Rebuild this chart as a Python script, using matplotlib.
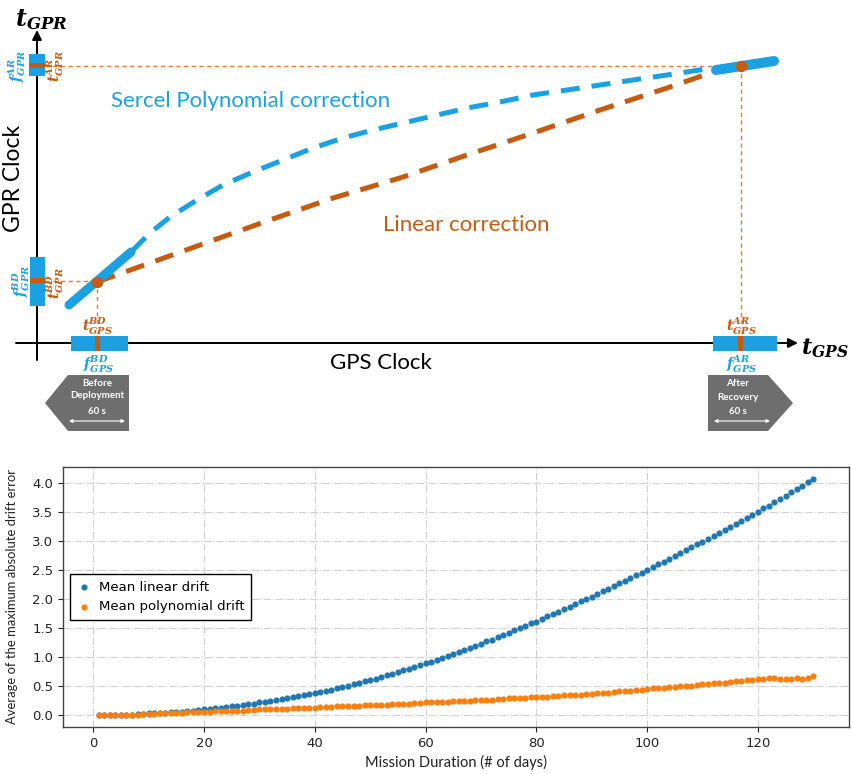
import matplotlib
matplotlib.use('Agg')
import matplotlib.pyplot as plt
from matplotlib.patches import Polygon, Rectangle

# ---------------- data (bottom chart) ----------------
days = list(range(1, 131))
linear_drift = [
    0.00, 0.00, 0.00, 0.00, 0.01, 0.01, 0.01, 0.02, 0.02, 0.03,
    0.03, 0.04, 0.04, 0.05, 0.06, 0.06, 0.07, 0.08, 0.09, 0.10,
    0.11, 0.12, 0.13, 0.14, 0.15, 0.16, 0.18, 0.19, 0.20, 0.22,
    0.23, 0.25, 0.26, 0.28, 0.29, 0.31, 0.33, 0.34, 0.36, 0.38,
    0.40, 0.42, 0.44, 0.46, 0.48, 0.51, 0.53, 0.55, 0.58, 0.61,
    0.63, 0.66, 0.69, 0.71, 0.74, 0.77, 0.80, 0.83, 0.86, 0.89,
    0.92, 0.95, 0.99, 1.02, 1.05, 1.09, 1.12, 1.16, 1.19, 1.23,
    1.27, 1.30, 1.34, 1.38, 1.42, 1.46, 1.50, 1.54, 1.58, 1.61,
    1.65, 1.70, 1.74, 1.78, 1.83, 1.87, 1.92, 1.96, 2.00, 2.04,
    2.09, 2.13, 2.18, 2.22, 2.27, 2.31, 2.36, 2.41, 2.45, 2.50,
    2.55, 2.60, 2.64, 2.69, 2.74, 2.79, 2.84, 2.89, 2.94, 2.99,
    3.04, 3.09, 3.14, 3.19, 3.24, 3.29, 3.35, 3.40, 3.45, 3.50,
    3.56, 3.61, 3.67, 3.72, 3.78, 3.84, 3.89, 3.95, 4.01, 4.07]
poly_drift = [
    0.00, 0.00, 0.00, 0.01, 0.01, 0.01, 0.01, 0.01, 0.02, 0.02,
    0.02, 0.03, 0.03, 0.04, 0.04, 0.04, 0.05, 0.05, 0.06, 0.06,
    0.06, 0.07, 0.07, 0.07, 0.08, 0.08, 0.08, 0.09, 0.09, 0.10,
    0.10, 0.10, 0.11, 0.11, 0.11, 0.12, 0.12, 0.12, 0.13, 0.13,
    0.14, 0.14, 0.14, 0.15, 0.15, 0.16, 0.16, 0.16, 0.17, 0.17,
    0.18, 0.18, 0.18, 0.19, 0.19, 0.20, 0.20, 0.21, 0.21, 0.22,
    0.22, 0.22, 0.23, 0.23, 0.24, 0.24, 0.25, 0.25, 0.26, 0.26,
    0.27, 0.27, 0.28, 0.28, 0.29, 0.29, 0.30, 0.30, 0.31, 0.31,
    0.32, 0.32, 0.33, 0.33, 0.34, 0.34, 0.35, 0.35, 0.36, 0.37,
    0.38, 0.38, 0.39, 0.40, 0.41, 0.42, 0.42, 0.43, 0.44, 0.45,
    0.46, 0.46, 0.47, 0.48, 0.49, 0.50, 0.50, 0.51, 0.52, 0.53,
    0.54, 0.55, 0.55, 0.56, 0.57, 0.58, 0.59, 0.60, 0.61, 0.62,
    0.62, 0.64, 0.64, 0.62, 0.62, 0.63, 0.64, 0.63, 0.64, 0.67]
xticks = [0, 20, 40, 60, 80, 100, 120]
yticks = [0.0, 0.5, 1.0, 1.5, 2.0, 2.5, 3.0, 3.5, 4.0]
series_labels = ['Mean linear drift', 'Mean polynomial drift']

# ---------------- schematic (top diagram) ----------------
poly_curve_x = [132, 150, 170, 197, 223, 253, 283, 313, 343, 373, 403, 433, 467, 500, 533, 567, 600, 633, 667, 693, 713]
poly_curve_y = [251, 233, 217, 200, 185, 172, 160, 148, 138, 130, 123, 116, 108, 102, 95, 90, 85, 80, 75, 71, 68]
lin_curve_x = [97, 200, 267, 333, 400, 467, 533, 600, 667, 713]
lin_curve_y = [282, 245, 221, 198, 178, 155, 133, 110, 88, 72]

BLUE = '#1BA1E2'
ORANGE = '#C55A11'
GUIDE = '#E07B39'
GRAY = '#6E6E6E'
PX = 0.72  # points per pixel

plt.rcParams['mathtext.fontset'] = 'dejavuserif'

fig = plt.figure(figsize=(8.51, 7.74), dpi=100)

H = 435
dax = fig.add_axes([0, 1 - H / 774, 1, H / 774])
dax.set_xlim(0, 851)
dax.set_ylim(H, 0)
dax.axis('off')

# axes with arrows
dax.annotate('', xy=(37, 30), xytext=(37, 360),
             arrowprops=dict(arrowstyle='-|>', lw=2 * PX, color='black',
                             mutation_scale=14, shrinkA=0, shrinkB=0), zorder=1)
dax.annotate('', xy=(798, 343), xytext=(16, 343),
             arrowprops=dict(arrowstyle='-|>', lw=2 * PX, color='black',
                             mutation_scale=14, shrinkA=0, shrinkB=0), zorder=1)

# thin guide lines
gkw = dict(color=GUIDE, lw=1.4 * PX, ls=(0, (3, 2.5)), zorder=2)
dax.plot([45, 741], [66, 66], **gkw)
dax.plot([741, 741], [66, 322], **gkw)
dax.plot([45, 97], [281, 281], **gkw)
dax.plot([97, 97], [281, 322], **gkw)

# dashed correction curves
dax.plot(lin_curve_x, lin_curve_y, color=ORANGE, lw=5 * PX, dashes=(3.8, 2.4),
         solid_capstyle='butt', zorder=3)
dax.plot(poly_curve_x, poly_curve_y, color=BLUE, lw=5 * PX, dashes=(3.8, 2.4),
         zorder=3)

# thick solid segments
dax.plot([69, 131], [305, 252], color=BLUE, lw=9 * PX, solid_capstyle='round', zorder=4)
dax.plot([716, 774], [70, 61], color=BLUE, lw=10 * PX, solid_capstyle='round', zorder=4)

# orange dots
dax.plot([97, 741], [282, 66], 'o', color=ORANGE, ms=10 * PX, zorder=5)

# rectangles on axes
def rect(x0, y0, x1, y1, color, z=3):
    dax.add_patch(Rectangle((x0, y0), x1 - x0, y1 - y0, facecolor=color,
                            edgecolor='none', zorder=z))

rect(29, 54, 45, 76, BLUE)
rect(29, 63, 45, 68, ORANGE, 4)
rect(30, 257, 45, 306, BLUE)
rect(30, 278, 45, 283, ORANGE, 4)
rect(71, 336, 128, 351, BLUE)
rect(95, 336, 100, 351, ORANGE, 4)
rect(713, 336, 777, 351, BLUE)
rect(738, 336, 743, 351, ORANGE, 4)

# math labels
dax.text(41, 20, r'$\mathbfit{t}_{\mathbfit{GPR}}$', fontsize=17, ha='center', va='center')
dax.text(825, 348, r'$\mathbfit{t}_{\mathbfit{GPS}}$', fontsize=16, ha='center', va='center')

sl = 10
def ml(letter, sub, sup):
    return r'$\mathbfit{%s}_{\mathbfit{%s}}^{\mathbfit{%s}}$' % (letter, sub, sup)

dax.text(17, 66, ml('f', 'GPR', 'AR'), color=BLUE, fontsize=sl, rotation=90, ha='center', va='center')
dax.text(55, 66, ml('t', 'GPR', 'AR'), color=ORANGE, fontsize=sl, rotation=90, ha='center', va='center')
dax.text(21, 281, ml('f', 'GPR', 'BD'), color=BLUE, fontsize=sl, rotation=90, ha='center', va='center')
dax.text(55, 283, ml('t', 'GPR', 'BD'), color=ORANGE, fontsize=sl, rotation=90, ha='center', va='center')
dax.text(97, 326, ml('t', 'GPS', 'BD'), color=ORANGE, fontsize=sl, ha='center', va='center')
dax.text(99, 364, ml('f', 'GPS', 'BD'), color=BLUE, fontsize=sl, ha='center', va='center')
dax.text(741, 326, ml('t', 'GPS', 'AR'), color=ORANGE, fontsize=sl, ha='center', va='center')
dax.text(742, 364, ml('f', 'GPS', 'AR'), color=BLUE, fontsize=sl, ha='center', va='center')

# big texts
tf = 'Lato'
dax.text(251, 101, 'Sercel Polynomial correction', color=BLUE, fontsize=16, family=tf,
         ha='center', va='center')
dax.text(466, 225, 'Linear correction', color=ORANGE, fontsize=16, family=tf,
         ha='center', va='center')
dax.text(14, 178, 'GPR Clock', color='black', fontsize=16.5, family=tf, rotation=90,
         ha='center', va='center')
dax.text(381, 363, 'GPS Clock', color='black', fontsize=16, family=tf,
         ha='center', va='center')

# gray arrow boxes
dax.add_patch(Polygon([(45, 403), (68, 375), (129, 375), (129, 431), (68, 431)],
                      closed=True, facecolor=GRAY, edgecolor='none', zorder=3))
dax.add_patch(Polygon([(708, 375), (768, 375), (793, 403), (768, 431), (708, 431)],
                      closed=True, facecolor=GRAY, edgecolor='none', zorder=3))
bkw = dict(color='white', fontsize=7, family=tf, fontweight='bold', ha='center',
           va='center', zorder=4)
dax.text(97, 384, 'Before', **bkw)
dax.text(97, 396, 'Deployment', **bkw)
dax.text(97, 411, '60 s', **bkw)
dax.text(738, 384, 'After', **bkw)
dax.text(738, 397, 'Recovery', **bkw)
dax.text(738, 411, '60 s', **bkw)
akw = dict(arrowstyle='<|-|>', lw=0.8, color='white', mutation_scale=5,
           shrinkA=0, shrinkB=0)
dax.annotate('', xy=(69, 421), xytext=(125, 421), arrowprops=akw, zorder=4)
dax.annotate('', xy=(714, 421), xytext=(770, 421), arrowprops=akw, zorder=4)

# ---------------- bottom chart ----------------
L, R, T, B = 63, 849, 467, 727
ax = fig.add_axes([L / 851, 1 - B / 774, (R - L) / 851, (B - T) / 774])
ax.scatter(days, linear_drift, s=20, color='#1f77b4', linewidths=0,
           label=series_labels[0], zorder=3)
ax.scatter(days, poly_drift, s=20, color='#ff7f0e', linewidths=0,
           label=series_labels[1], zorder=3)
ax.set_xticks(xticks)
ax.set_yticks(yticks)
ax.set_yticklabels([f'{v:.1f}' for v in yticks])
ax.tick_params(labelsize=9.5, colors='#222222')
ax.grid(True, linestyle='-.', color='#d0d0d0', linewidth=0.8)
ax.set_axisbelow(True)
for s in ax.spines.values():
    s.set_color('#444444')
    s.set_linewidth(1.0)
ax.set_xlabel('Mission Duration (# of days)', fontsize=10.5, family=tf, color='#222222')
ax.set_ylabel('Average of the maximum absolute drift error', fontsize=9.4, family=tf,
              color='#222222', labelpad=10)
leg = ax.legend(loc='center left', fontsize=9.5, fancybox=False, edgecolor='black',
                framealpha=1, borderpad=0.5, handlelength=1.2, handletextpad=0.5)
leg.get_frame().set_linewidth(1.0)

fig.savefig('out.png', dpi=100)
